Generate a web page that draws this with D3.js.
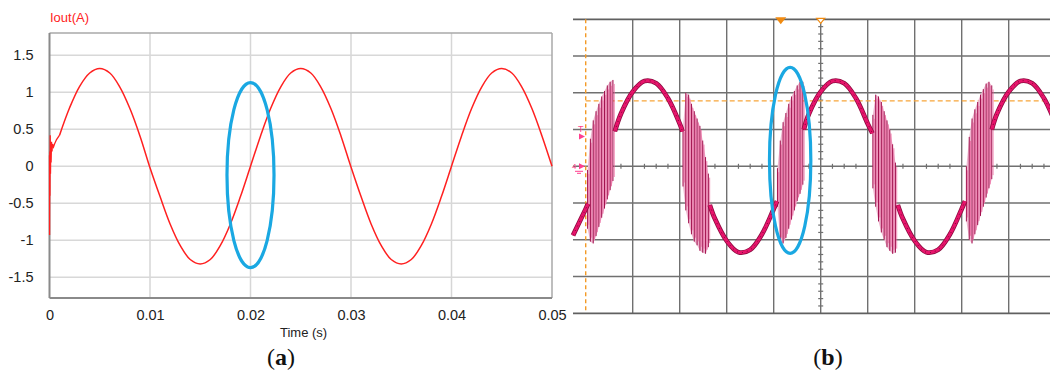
<!DOCTYPE html>
<html>
<head>
<meta charset="utf-8">
<script src="https://cdn.jsdelivr.net/npm/d3@7"></script>
<style>
  body { margin: 0; background: #fff; }
</style>
</head>
<body>
<div id="chart"></div>
<script>
// 1. data (a): simulated output current
var simTicksX = [0, 0.01, 0.02, 0.03, 0.04, 0.05];
var simTicksY = [-1.5, -1, -0.5, 0, 0.5, 1, 1.5];

// start-up transient, first millisecond
var simStartT = [0, 0.00001, 0.00003, 0.00005, 0.00007, 0.0001, 0.00013, 0.00016, 0.0002, 0.00025, 0.0003, 0.0004, 0.0005, 0.0007, 0.001];
var simStartI = [0.15, -0.93, 0.2, -0.4, 0.42, -0.1, 0.3, 0.05, 0.33, 0.2, 0.3, 0.26, 0.3, 0.36, 0.42];

var simT = [0.001, 0.002, 0.003, 0.004, 0.005, 0.006, 0.007, 0.008, 0.009, 0.010,
            0.011, 0.012, 0.013, 0.014, 0.015, 0.016, 0.017, 0.018, 0.019, 0.020,
            0.021, 0.022, 0.023, 0.024, 0.025, 0.026, 0.027, 0.028, 0.029, 0.030,
            0.031, 0.032, 0.033, 0.034, 0.035, 0.036, 0.037, 0.038, 0.039, 0.040,
            0.041, 0.042, 0.043, 0.044, 0.045, 0.046, 0.047, 0.048, 0.049, 0.050];
var simI = [0.42, 0.79, 1.08, 1.26, 1.32, 1.26, 1.07, 0.78, 0.41, -0.02,
            -0.41, -0.78, -1.07, -1.26, -1.32, -1.26, -1.07, -0.78, -0.41, 0.0,
            0.41, 0.78, 1.07, 1.26, 1.32, 1.26, 1.07, 0.78, 0.41, -0.01,
            -0.41, -0.78, -1.07, -1.26, -1.32, -1.26, -1.07, -0.78, -0.41, 0.0,
            0.41, 0.78, 1.07, 1.26, 1.32, 1.26, 1.07, 0.78, 0.41, 0.0];

// highlighted region (a): centre t, centre I, half width (s), half height (A)
var ringA = [0.02, -0.12, 0.00234, 1.25];

// 2. data (b): oscilloscope trace, x in divisions, y in divisions
var traceA = [[-0.27, -1.88], [0, -1.16], [0.05, -1.02]];
var traceB = [[0.62, 0.95], [0.75, 1.43], [1, 2.03], [1.25, 2.32], [1.5, 2.26], [1.75, 1.85], [2, 1.16], [2.06, 0.95]];
var traceC = [[2.64, -1.05], [2.75, -1.43], [3, -2.03], [3.25, -2.34], [3.5, -2.27], [3.75, -1.85], [4, -1.16], [4.07, -0.95]];
var traceD = [[4.64, 1.0], [4.75, 1.43], [5, 2.03], [5.25, 2.32], [5.5, 2.26], [5.75, 1.85], [6, 1.16], [6.1, 0.9]];
var traceE = [[6.64, -1.05], [6.75, -1.43], [7, -2.03], [7.25, -2.34], [7.5, -2.27], [7.75, -1.85], [8, -1.16], [8.07, -0.95]];
var traceF = [[8.64, 1.0], [8.75, 1.43], [9, 2.03], [9.25, 2.32], [9.5, 2.26], [9.75, 1.85], [10, 1.16], [10.25, 0.29]];

// switching bursts near the zero crossings: [t, top, bottom]
var burst1 = [[0.04, -0.1, -1.7], [0.10, 0.75, -2.05], [0.16, 1.25, -2.1], [0.22, 1.5, -1.9], [0.28, 1.7, -1.65],
              [0.34, 1.9, -1.4], [0.40, 2.05, -1.15], [0.46, 2.2, -0.9], [0.52, 2.3, -0.65], [0.58, 2.35, -0.4]];
var burst2 = [[2.07, 1.05, -0.55], [2.13, 2.0, -1.2], [2.19, 1.95, -1.55], [2.25, 1.7, -1.85], [2.31, 1.5, -2.05],
              [2.37, 1.3, -2.15], [2.43, 1.1, -2.3], [2.49, 0.7, -2.35], [2.55, 0.25, -2.38], [2.61, -0.2, -2.2]];
var burst3 = [[4.08, -0.05, -1.1], [4.14, 0.7, -2.05], [4.20, 1.2, -2.1], [4.26, 1.45, -1.95], [4.32, 1.7, -1.7],
              [4.38, 1.9, -1.45], [4.44, 2.05, -1.2], [4.50, 2.2, -0.95], [4.56, 2.3, -0.75], [4.62, 2.3, -0.5]];
var burst4 = [[6.11, 1.4, -0.6], [6.17, 1.95, -1.1], [6.23, 1.9, -1.5], [6.29, 1.75, -1.8], [6.35, 1.5, -2.0],
              [6.41, 1.25, -2.2], [6.47, 1.0, -2.3], [6.53, 0.6, -2.38], [6.59, 0.1, -2.35]];
var burst5 = [[8.10, 0.0, -1.5], [8.16, 0.8, -2.0], [8.22, 1.3, -2.1], [8.28, 1.55, -1.85], [8.34, 1.75, -1.6],
              [8.40, 1.95, -1.35], [8.46, 2.1, -1.1], [8.52, 2.25, -0.85], [8.58, 2.3, -0.6], [8.64, 2.2, -0.35]];

var scopeDivX = [1, 2, 3, 4, 5, 6, 7, 8, 9];
var scopeDivY = [-3, -2, -1, 0, 1, 2, 3];
var cursorLevel = 1.78;
// highlighted region (b): centre t, centre v, half width, half height (divisions)
var ringB = [4.35, 0.16, 0.44, 2.53];

// 3. svg
var width = 1050;
var height = 373;
var svg = d3.select("#chart").append("svg")
  .attr("width", width)
  .attr("height", height)
  .style("font-family", "'Liberation Sans', Arial, sans-serif");

// ---------- panel (a) ----------
var ax = d3.scaleLinear().domain([0, 0.05]).range([49.5, 552]);
var ay = d3.scaleLinear().domain([-1.78, 1.8]).range([298, 33]);

var ga = svg.append("g");

ga.selectAll(".vgrid").data(simTicksX.slice(1, -1)).enter().append("line")
  .attr("x1", function(d) { return ax(d); }).attr("x2", function(d) { return ax(d); })
  .attr("y1", ay(1.8)).attr("y2", ay(-1.78))
  .attr("stroke", "#d6d6d6").attr("stroke-width", 1.5);

ga.selectAll(".hgrid").data(simTicksY).enter().append("line")
  .attr("x1", ax(0)).attr("x2", ax(0.05))
  .attr("y1", function(d) { return ay(d); }).attr("y2", function(d) { return ay(d); })
  .attr("stroke", "#d8d8d8").attr("stroke-width", 1.5);

// frame
ga.append("line").attr("x1", ax(0)).attr("x2", ax(0.05)).attr("y1", ay(1.8)).attr("y2", ay(1.8))
  .attr("stroke", "#a8a8a8").attr("stroke-width", 1.5);
ga.append("line").attr("x1", ax(0.05)).attr("x2", ax(0.05)).attr("y1", ay(1.8)).attr("y2", ay(-1.78))
  .attr("stroke", "#a8a8a8").attr("stroke-width", 1.5);
ga.append("line").attr("x1", ax(0)).attr("x2", ax(0)).attr("y1", ay(1.8)).attr("y2", ay(-1.78))
  .attr("stroke", "#8a8a8a").attr("stroke-width", 2);
ga.append("line").attr("x1", ax(0)).attr("x2", ax(0.05)).attr("y1", ay(-1.78)).attr("y2", ay(-1.78))
  .attr("stroke", "#8a8a8a").attr("stroke-width", 2);

var yAxisA = ga.append("g")
  .attr("transform", "translate(" + ax(0) + ",0)")
  .call(d3.axisLeft(ay).tickValues(simTicksY).tickSize(0).tickPadding(16)
    .tickFormat(function(d) { return String(d); }));
var xAxisA = ga.append("g")
  .attr("transform", "translate(0," + ay(-1.78) + ")")
  .call(d3.axisBottom(ax).tickValues(simTicksX).tickSize(0).tickPadding(12)
    .tickFormat(function(d) { return String(d); }));
[yAxisA, xAxisA].forEach(function(g) {
  g.select(".domain").remove();
  g.selectAll("text")
    .style("font-family", "'Liberation Sans', Arial, sans-serif")
    .style("font-size", "14.5px")
    .attr("fill", "#222");
});

ga.append("text").text("Iout(A)")
  .attr("x", 50).attr("y", 22)
  .style("font-size", "13px").attr("fill", "#ff2222");
ga.append("text").text("Time (s)")
  .attr("x", 280).attr("y", 337)
  .style("font-size", "13px").attr("fill", "#222");

var simLine = d3.line()
  .x(function(d) { return ax(d[0]); })
  .y(function(d) { return ay(d[1]); });

ga.append("path")
  .datum(simStartT.map(function(t, i) { return [t, simStartI[i]]; }))
  .attr("d", simLine.curve(d3.curveLinear))
  .attr("fill", "none").attr("stroke", "#ff2020").attr("stroke-width", 1.3);

ga.append("path")
  .datum(simT.map(function(t, i) { return [t, simI[i]]; }))
  .attr("d", simLine.curve(d3.curveCatmullRom))
  .attr("fill", "none").attr("stroke", "#ff2020").attr("stroke-width", 1.5);

ga.append("ellipse")
  .attr("cx", ax(ringA[0])).attr("cy", ay(ringA[1]))
  .attr("rx", ax(ringA[2]) - ax(0)).attr("ry", ay(0) - ay(ringA[3]))
  .attr("fill", "none").attr("stroke", "#1aa8e2").attr("stroke-width", 3.2);

// ---------- panel (b) ----------
var bx = d3.scaleLinear().domain([0, 10]).range([585.7, 1055.7]);
var by = d3.scaleLinear().domain([-4, 4]).range([313.3, 19.3]);
var gb = svg.append("g");
var screenLeft = 573;

gb.selectAll(".vgrid").data(scopeDivX).enter().append("line")
  .attr("x1", function(d) { return bx(d); }).attr("x2", function(d) { return bx(d); })
  .attr("y1", by(4)).attr("y2", by(-4))
  .attr("stroke", "#707070").attr("stroke-width", 1.4);

gb.selectAll(".hgrid").data(scopeDivY).enter().append("line")
  .attr("x1", screenLeft).attr("x2", width)
  .attr("y1", function(d) { return by(d); }).attr("y2", function(d) { return by(d); })
  .attr("stroke", "#707070").attr("stroke-width", 1.4);

[4, -4].forEach(function(v) {
  gb.append("line").attr("x1", screenLeft).attr("x2", width)
    .attr("y1", by(v)).attr("y2", by(v))
    .attr("stroke", "#606060").attr("stroke-width", 1.8);
});

// minor ticks on centre lines
gb.selectAll(".hminor").data(d3.range(0, 40).map(function(i) { return i * 0.25; }).filter(function(d) { return d % 1 !== 0; }))
  .enter().append("line")
  .attr("x1", function(d) { return bx(d); }).attr("x2", function(d) { return bx(d); })
  .attr("y1", by(0) - 2.5).attr("y2", by(0) + 2.5)
  .attr("stroke", "#707070").attr("stroke-width", 1.2);
gb.selectAll(".vminor").data(d3.range(-20, 21).map(function(i) { return i * 0.2; }).filter(function(d) { return Math.abs(d - Math.round(d)) > 0.01; }))
  .enter().append("line")
  .attr("x1", bx(5) - 2.5).attr("x2", bx(5) + 2.5)
  .attr("y1", function(d) { return by(d); }).attr("y2", function(d) { return by(d); })
  .attr("stroke", "#707070").attr("stroke-width", 1.2);

// cursors
gb.append("line").attr("x1", bx(0)).attr("x2", bx(0)).attr("y1", by(4)).attr("y2", by(-4))
  .attr("stroke", "#f39a26").attr("stroke-width", 1.4).attr("stroke-dasharray", "4,3");
gb.append("line").attr("x1", bx(0)).attr("x2", width).attr("y1", by(cursorLevel)).attr("y2", by(cursorLevel))
  .attr("stroke", "#f7a53a").attr("stroke-width", 1.3).attr("stroke-dasharray", "5,3");

// bursts
var bursts = [burst1, burst2, burst3, burst4, burst5];
var band = d3.area()
  .x(function(d) { return bx(d[0]); })
  .y0(function(d) { return by(d[2]); })
  .y1(function(d) { return by(d[1]); });
bursts.forEach(function(b) {
  var g = gb.append("g");
  g.append("path").datum(b).attr("d", band)
    .attr("fill", "#eeb6cf");
  g.selectAll(".spk").data(b).enter().append("line")
    .attr("x1", function(d) { return bx(d[0]); }).attr("x2", function(d) { return bx(d[0]); })
    .attr("y1", function(d) { return by(d[1]); }).attr("y2", function(d) { return by(d[2]); })
    .attr("stroke", "#a3124f").attr("stroke-width", 1);
  g.selectAll(".spk2").data(b).enter().append("line")
    .attr("x1", function(d) { return bx(d[0]) + 1.3; }).attr("x2", function(d) { return bx(d[0]) + 1.3; })
    .attr("y1", function(d) { return by(d[1]) + 4; }).attr("y2", function(d) { return by(d[2]) - 4; })
    .attr("stroke", "#ec5a98").attr("stroke-width", 0.7);
});

// smooth parts of the trace
var scopeLine = d3.line()
  .x(function(d) { return bx(d[0]); })
  .y(function(d) { return by(d[1]); })
  .curve(d3.curveCatmullRom);
[traceA, traceB, traceC, traceD, traceE, traceF].forEach(function(seg) {
  gb.append("path").datum(seg).attr("d", scopeLine)
    .attr("fill", "none").attr("stroke", "#8c0d40").attr("stroke-width", 4.8);
  gb.append("path").datum(seg).attr("d", scopeLine)
    .attr("fill", "none").attr("stroke", "#e8146c").attr("stroke-width", 3.2);
  gb.append("path").datum(seg).attr("d", scopeLine)
    .attr("fill", "none").attr("stroke", "#7a0a35").attr("stroke-width", 1)
    .attr("stroke-dasharray", "1,4");
});

// markers
gb.append("path").attr("d", "M775," + (by(4) - 2) + "L786," + (by(4) - 2) + "L780.5," + (by(4) + 5) + "Z")
  .attr("transform", "translate(" + (bx(4.15) - 780.5) + ",0)")
  .attr("fill", "#f08a10");
gb.append("path").attr("d", "M" + (bx(5) - 4) + "," + (by(4) - 1) + "L" + (bx(5) + 4) + "," + (by(4) - 1) + "L" + bx(5) + "," + (by(4) + 4) + "Z")
  .attr("fill", "#fff").attr("stroke", "#f08a10").attr("stroke-width", 1.2);

gb.append("text").text("T").attr("x", 578).attr("y", by(1) + 2)
  .style("font-size", "9px").attr("fill", "#ff3f8e");
gb.append("path").attr("d", "M579," + (by(1) + 4) + "L585," + (by(1) + 7) + "L579," + (by(1) + 10) + "Z")
  .attr("fill", "#ff3f8e");
gb.append("text").text("4").attr("x", 572).attr("y", by(0) + 3)
  .style("font-size", "8px").attr("fill", "#ff3f8e");
gb.append("path").attr("d", "M579," + (by(0) - 3) + "L585," + by(0) + "L579," + (by(0) + 3) + "Z")
  .attr("fill", "#ff3f8e");
gb.append("path").attr("d", "M575," + (by(0) + 5) + "h8M577," + (by(0) + 7) + "h4")
  .attr("stroke", "#ff3f8e").attr("stroke-width", 1);

gb.append("ellipse")
  .attr("cx", bx(ringB[0])).attr("cy", by(ringB[1]))
  .attr("rx", bx(ringB[2]) - bx(0)).attr("ry", by(0) - by(ringB[3]))
  .attr("fill", "none").attr("stroke", "#1aa8e2").attr("stroke-width", 3.2);

// 4. panel labels
[["a", 281], ["b", 828]].forEach(function(p) {
  var t = svg.append("text")
    .attr("x", p[1]).attr("y", 365)
    .attr("text-anchor", "middle")
    .style("font-family", "'Liberation Serif', 'Times New Roman', serif")
    .style("font-size", "24px").attr("fill", "#111");
  t.append("tspan").text("(");
  t.append("tspan").text(p[0]).style("font-weight", "bold");
  t.append("tspan").text(")");
});
</script>
</body>
</html>
